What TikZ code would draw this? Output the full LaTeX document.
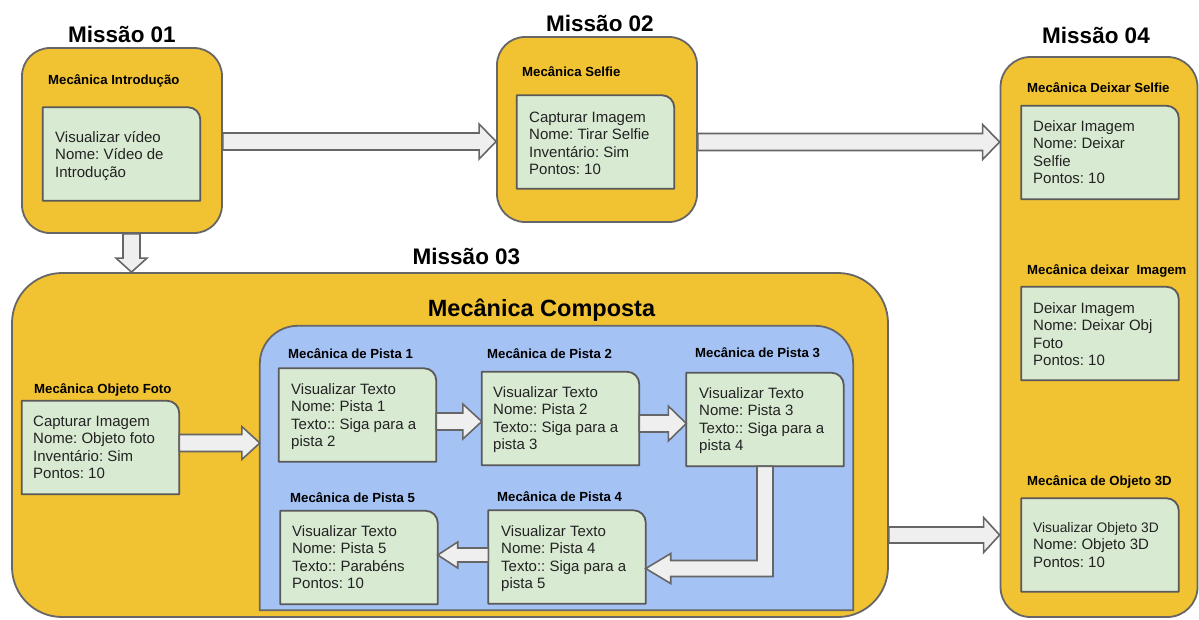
\documentclass[tikz,border=0pt]{standalone}
\usepackage{fontspec}
\setmainfont{Liberation Sans}
\usetikzlibrary{calc}
\frenchspacing

\definecolor{gold}{HTML}{F1C232}
\definecolor{edge}{HTML}{666666}
\definecolor{notefill}{HTML}{D9EAD3}
\definecolor{noteedge}{HTML}{595959}
\definecolor{lane}{HTML}{A4C2F4}
\definecolor{arrowfill}{HTML}{EFEFEF}
\definecolor{ink}{HTML}{222222}

% note box: sharp corners except a rounded top-right corner
\newcommand\gnote[3]{%
  \node[gbox] (#1) at (#2,#3) {};
  \draw[gline] (#1.south west) -- (#1.north west)
    -- ([xshift=-12pt]#1.north east)
    .. controls ([xshift=-5.4pt]#1.north east) and ([yshift=-5.4pt]#1.north east) ..
    ([yshift=-12pt]#1.north east) -- (#1.south east) -- cycle;}

% horizontal block arrow: from, to, y, shaft half, head half, head length
\newcommand\hblock[6]{%
  \path[blockarrow] let \p1=(#1), \p2=(#2), \p3=(0,#3),
      \p4=($(\x2,\y3)!#6pt!(\x1,\y3)$) in
    (\x1,\y3+#4pt) -- (\x4,\y3+#4pt) -- (\x4,\y3+#5pt) -- (\x2,\y3)
    -- (\x4,\y3-#5pt) -- (\x4,\y3-#4pt) -- (\x1,\y3-#4pt) -- cycle;}

% vertical block arrow: from, to, x, shaft half, head half, head length
\newcommand\vblock[6]{%
  \path[blockarrow] let \p1=(#1), \p2=(#2), \p3=(#3,0),
      \p4=($(\x3,\y2)!#6pt!(\x3,\y1)$) in
    (\x3-#4pt,\y1) -- (\x3-#4pt,\y4) -- (\x3-#5pt,\y4) -- (\x3,\y2)
    -- (\x3+#5pt,\y4) -- (\x3+#4pt,\y4) -- (\x3+#4pt,\y1) -- cycle;}

\begin{document}
\begin{tikzpicture}[x=1pt,y=-1pt,
  mission/.style={draw=edge, fill=gold, line width=1.8pt, inner sep=0pt},
  gbox/.style={draw=none, inner sep=0pt, minimum width=157pt, minimum height=93pt},
  gline/.style={draw=noteedge, fill=notefill, line width=1.8pt, line join=round},
  blockarrow/.style={draw=edge, fill=arrowfill, line width=1.6pt, line join=miter},
  txt/.style={font=\fontsize{15}{17.5}\selectfont, text=ink, align=left,
    anchor=north west, inner sep=0pt},
  lbl/.style={font=\fontsize{13.2}{15}\selectfont\bfseries, text=black,
    anchor=base west, inner sep=0pt},
  title/.style={font=\fontsize{22.5}{26}\selectfont\bfseries, text=black,
    anchor=base, inner sep=0pt}]
\useasboundingbox (0,0) rectangle (1199,619);

% mission containers
\node[mission, rounded corners=28pt, minimum width=200pt, minimum height=185pt] (m1) at (122,140.5) {};
\node[mission, rounded corners=28pt, minimum width=200pt, minimum height=185pt] (m2) at (597,129.5) {};
\node[mission, rounded corners=50pt, minimum width=876pt, minimum height=344pt] (m3) at (450,445) {};
\node[mission, rounded corners=30pt, minimum width=197pt, minimum height=560pt] (m4) at (1099,337) {};

% titles
\node[title] (tm1) at (122,42) {Missão 01};
\node[title] (tm2) at (600,31) {Missão 02};
\node[title] (tm3) at (466.5,264.5) {Missão 03};
\node[title] (tm4) at (1096,43) {Missão 04};
\node[title, font=\fontsize{23.5}{27}\selectfont\bfseries] (comp) at (541.5,316) {Mecânica Composta};

% clue lane
\node[draw=none, inner sep=0pt, minimum width=593pt, minimum height=284pt] (pistas) at (556.5,468) {};
\draw[draw=edge, fill=lane, line width=1.8pt]
  (pistas.south west) -- ([yshift=-38pt]pistas.north west)
  .. controls ([yshift=-17pt]pistas.north west) and ([xshift=17pt]pistas.north west) ..
  ([xshift=38pt]pistas.north west) -- ([xshift=-38pt]pistas.north east)
  .. controls ([xshift=-17pt]pistas.north east) and ([yshift=-17pt]pistas.north east) ..
  ([yshift=-38pt]pistas.north east) -- (pistas.south east) -- cycle;

% mechanic labels
\node[lbl] (l1) at (48,84) {Mecânica Introdução};
\node[lbl] (l2) at (522,76) {Mecânica Selfie};
\node[lbl] (l4a) at (1027,92) {Mecânica Deixar Selfie};
\node[lbl] (l4b) at (1027,274) {Mecânica deixar\ \ Imagem};
\node[lbl] (l4c) at (1027,485) {Mecânica de Objeto 3D};
\node[lbl] (lf) at (34,393) {Mecânica Objeto Foto};
\node[lbl] (lp1) at (288,358) {Mecânica de Pista 1};
\node[lbl] (lp2) at (487,358) {Mecânica de Pista 2};
\node[lbl] (lp3) at (695,357) {Mecânica de Pista 3};
\node[lbl] (lp5) at (290,502) {Mecânica de Pista 5};
\node[lbl] (lp4) at (497,501) {Mecânica de Pista 4};

% note boxes
\gnote{g1}{121.5}{154}
\gnote{g2}{595.5}{142}
\gnote{g4a}{1100}{152.5}
\gnote{g4b}{1100}{333.5}
\gnote{g4c}{1100}{545}
\gnote{gf}{100.5}{447.5}
\gnote{p1}{357.5}{415}
\gnote{p2}{560.5}{418.5}
\gnote{p3}{765}{419.5}
\gnote{p5}{359}{557.5}
\gnote{p4}{567}{557}

% note texts
\node[txt] (t1) at (55,129.75) {\strut Visualizar vídeo\\Nome: Vídeo de\\Introdução};
\node[txt] (t2) at (529,109.75) {\strut Capturar Imagem\\Nome: Tirar Selfie\\Inventário: Sim\\Pontos: 10};
\node[txt] (t4a) at (1033,118.75) {\strut Deixar Imagem\\Nome: Deixar\\Selfie\\Pontos: 10};
\node[txt] (t4b) at (1033,300.75) {\strut Deixar Imagem\\Nome: Deixar Obj\\Foto\\Pontos: 10};
\node[txt] (t4c) at (1033,519.75) {\strut{\fontsize{13.8}{17.5}\selectfont Visualizar Objeto 3D}\\Nome: Objeto 3D\\Pontos: 10};
\node[txt] (tf) at (33,413.75) {\strut Capturar Imagem\\Nome: Objeto foto\\Inventário: Sim\\Pontos: 10};
\node[txt] (tp1) at (291,381.75) {\strut Visualizar Texto\\Nome: Pista 1\\Texto:: Siga para a\\pista 2};
\node[txt] (tp2) at (493,384.75) {\strut Visualizar Texto\\Nome: Pista 2\\Texto:: Siga para a\\pista 3};
\node[txt] (tp3) at (699,385.75) {\strut Visualizar Texto\\Nome: Pista 3\\Texto:: Siga para a\\pista 4};
\node[txt] (tp5) at (292,523.75) {\strut Visualizar Texto\\Nome: Pista 5\\Texto:: Parabéns\\Pontos: 10};
\node[txt] (tp4) at (501,523.75) {\strut Visualizar Texto\\Nome: Pista 4\\Texto:: Siga para a\\pista 5};

% flow arrows
\hblock{m1.east}{m2.west}{141.5}{8.5}{17.5}{17}
\hblock{m2.east}{m4.west}{142}{8.5}{17.5}{17}
\vblock{m1.south}{m3.north}{131.5}{8.5}{15.5}{14}
\hblock{gf.east}{pistas.west}{443}{8.5}{16.5}{18}
\hblock{p1.east}{p2.west}{421.5}{8.5}{17.5}{19}
\hblock{p2.east}{p3.west}{423.5}{8.5}{17.5}{18}
\hblock{p4.west}{p5.east}{555}{7}{13}{20}
\hblock{m3.east}{m4.west}{535}{8}{17.5}{16}
\path[blockarrow] let \p1=(p3.south), \p2=(p4.east), \p3=(0,568.5) in
  (\x1-8pt,\y1) -- (\x1-8pt,\y3+8pt) -- (\x2+25pt,\y3+8pt) -- (\x2+25pt,\y3+15pt)
  -- (\x2,\y3) -- (\x2+25pt,\y3-15pt) -- (\x2+25pt,\y3-8pt) -- (\x1+8pt,\y3-8pt)
  -- (\x1+8pt,\y1) -- cycle;
\end{tikzpicture}
\end{document}
